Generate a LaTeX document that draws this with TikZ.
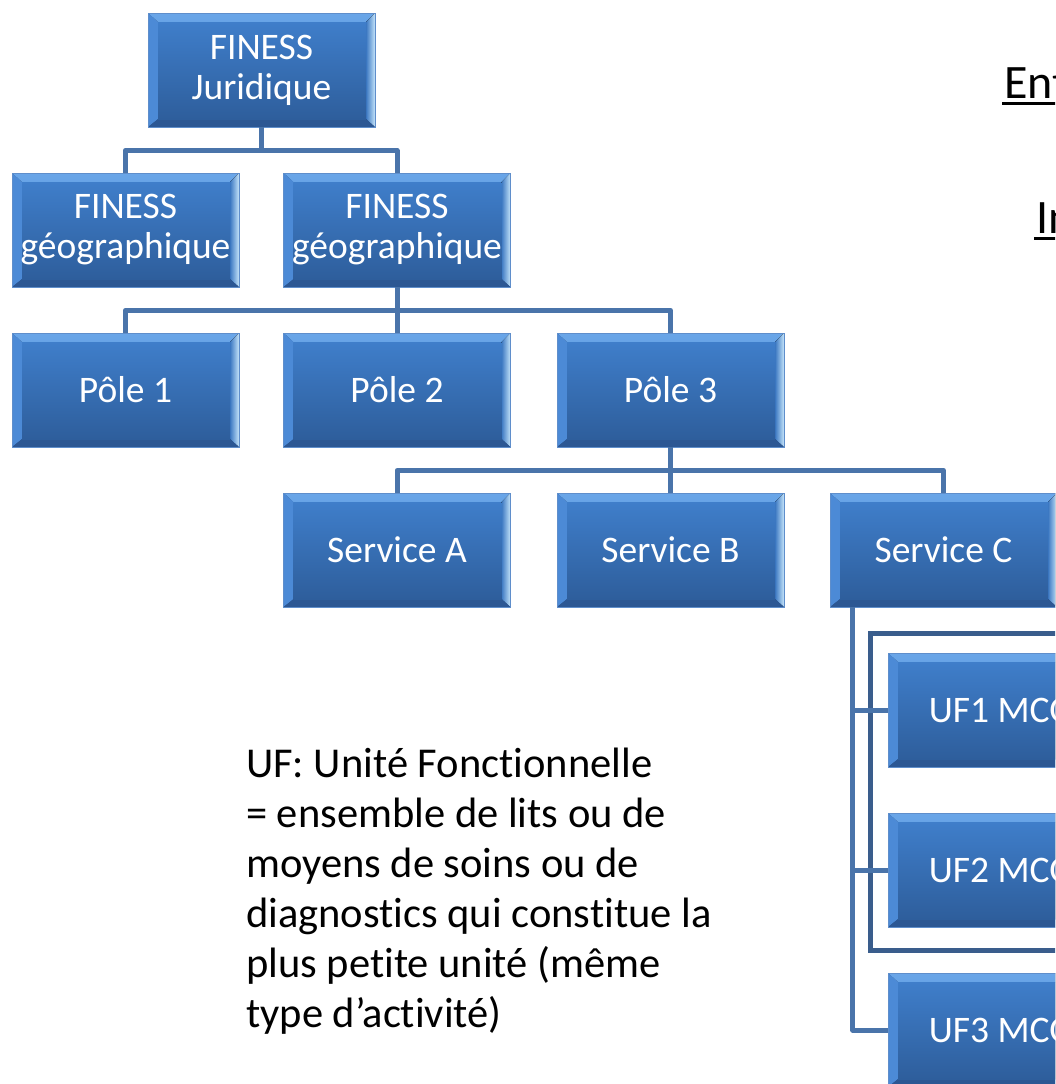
\documentclass[tikz,border=0pt]{standalone}
\usepackage{fontspec}
\setmainfont{Carlito}[Ligatures=NoCommon]
\definecolor{boxtop}{HTML}{3F7ECA}
\definecolor{boxbot}{HTML}{2E5E9C}
\definecolor{boxedge}{HTML}{5F8ECB}
\definecolor{bvtopA}{HTML}{6AA6E8}
\definecolor{bvtopB}{HTML}{4686D2}
\definecolor{bvleft}{HTML}{4C8AD6}
\definecolor{bvrightA}{HTML}{3C78C2}
\definecolor{bvrightB}{HTML}{C4E4FA}
\definecolor{bvbot}{HTML}{2C5793}
\definecolor{connclr}{HTML}{4A74AA}
\definecolor{grpclr}{HTML}{3A5D8C}
\newcommand\ulx[1]{\setbox0\hbox{#1}\rlap{\kern-2pt\rule[-7pt]{\dimexpr\wd0+40pt\relax}{3pt}}\box0}
\tikzset{
  ubox/.style={rectangle, minimum width=227pt, minimum height=114pt, inner sep=0pt,
    top color=boxtop, bottom color=boxbot, draw=boxedge, line width=0.6pt,
    text=white, align=center, font=\fontsize{37.5}{40}\selectfont,
    path picture={
      \fill[top color=bvtopA, bottom color=bvtopB]
        (path picture bounding box.north west) -- (path picture bounding box.north east)
        -- ([xshift=-9pt,yshift=-9pt]path picture bounding box.north east)
        -- ([xshift=10pt,yshift=-9pt]path picture bounding box.north west) -- cycle;
      \fill[bvleft]
        (path picture bounding box.north west) -- ([xshift=10pt,yshift=-9pt]path picture bounding box.north west)
        -- ([xshift=10pt,yshift=8pt]path picture bounding box.south west)
        -- (path picture bounding box.south west) -- cycle;
      \fill[left color=bvrightA, right color=bvrightB]
        (path picture bounding box.north east) -- ([xshift=-9pt,yshift=-9pt]path picture bounding box.north east)
        -- ([xshift=-9pt,yshift=8pt]path picture bounding box.south east)
        -- (path picture bounding box.south east) -- cycle;
      \fill[bvbot]
        (path picture bounding box.south west) -- ([xshift=10pt,yshift=8pt]path picture bounding box.south west)
        -- ([xshift=-9pt,yshift=8pt]path picture bounding box.south east)
        -- (path picture bounding box.south east) -- cycle;
      \fill[top color=boxtop, bottom color=boxbot]
        ([xshift=10pt,yshift=-9pt]path picture bounding box.north west) rectangle
        ([xshift=-9pt,yshift=8pt]path picture bounding box.south east);
    }},
  conn/.style={draw=connclr, line width=5pt, line join=round},
  grp/.style={draw=grpclr, line width=5pt},
  note/.style={anchor=north west, align=left, inner sep=0pt, text=black,
    font=\fontsize{42.5}{50}\selectfont},
  headtxt/.style={anchor=base west, inner sep=0pt, text=black, font=\fontsize{48}{52}\selectfont}
}
\begin{document}
\begin{tikzpicture}[x=1pt, y=-1pt]
\useasboundingbox (0,0) rectangle (1055,1084);
\fill[white] (0,0) rectangle (1055,1084);
\clip (0,0) rectangle (1055,1084);

% nodes
\node[ubox] (j)  at (261.5,70)  {FINESS\\Juridique};
\node[ubox] (g1) at (125.5,230) {FINESS\\géographique};
\node[ubox] (g2) at (397,230)   {FINESS\\géographique};
\node[ubox] (p1) at (125.5,390) {Pôle 1};
\node[ubox] (p2) at (397,390)   {Pôle 2};
\node[ubox] (p3) at (670.5,390) {Pôle 3};
\node[ubox] (sA) at (397,550)   {Service A};
\node[ubox] (sB) at (670.5,550) {Service B};
\node[ubox] (sC) at (943.5,550) {Service C};

% group frame
\draw[grp] (1140,633) -- (870,633) -- (870,950) -- (1140,950);

\node[ubox] (u1) at (1001.5,710)  {UF1 MCO};
\node[ubox] (u2) at (1001.5,870)  {UF2 MCO};
\node[ubox] (u3) at (1001.5,1030) {UF3 MCO};

% connectors
\draw[conn] (j.south) -- ++(0,23) -| (g1.north);
\draw[conn] (j.south) -- ++(0,23) -| (g2.north);
\draw[conn] (g2.south) -- ++(0,23) -| (p1.north);
\draw[conn] (g2.south) -- (p2.north);
\draw[conn] (g2.south) -- ++(0,23) -| (p3.north);
\draw[conn] (p3.south) -- ++(0,23) -| (sA.north);
\draw[conn] (p3.south) -- (sB.north);
\draw[conn] (p3.south) -- ++(0,23) -| (sC.north);
\coordinate (cx) at ([xshift=23pt]sC.south west);
\draw[conn] (cx) |- (u1.west);
\draw[conn] (cx) |- (u2.west);
\draw[conn] (cx) |- (u3.west);

% texts
\node[note] (def) at (246,748) {UF: Unité Fonctionnelle\\= ensemble de lits ou de\\moyens de soins ou de\\diagnostics qui constitue la\\plus petite unité (même\\type d’activité)};
\node[headtxt] (ent) at (1004,98) {\ulx{Ent}};
\node[headtxt] (imp) at (1036,233) {\ulx{In}};
\end{tikzpicture}
\end{document}
